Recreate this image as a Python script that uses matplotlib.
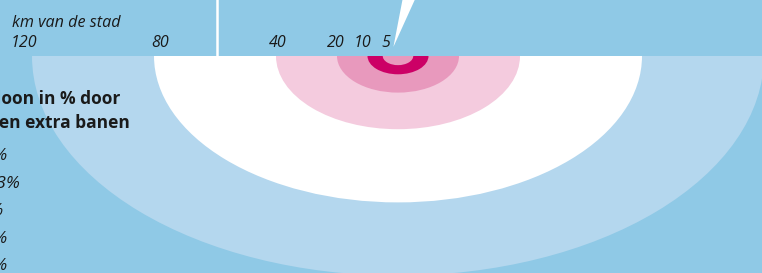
import matplotlib
matplotlib.use("Agg")
import matplotlib.pyplot as plt
from matplotlib.patches import Ellipse, Rectangle, Polygon

plt.rcParams['font.family'] = ['Open Sans', 'DejaVu Sans']

# ringen rond de stad (km) en kleuren, van buiten naar binnen
ring_km = [120, 80, 40, 20, 10, 5]
ring_kleur = ['#b4d7ee', '#ffffff', '#f4cbde', '#e899bd', '#cc0066', '#e899bd']
km_labels = ['120', '80', '40', '20', '10', '5']
km_label_pos = [-122.5, -78, -39.5, -20.5, -11.5, -4]

# legenda (links afgesneden in het origineel)
legenda_titel = ['Stijging loon in % door', 'het scheppen extra banen']
legenda_waarden = ['+0,4%', '+0,13%', '+0,2%', '+0,1%', '+0,1%']

bg = '#8fc9e6'
tekst = '#1a1a1a'
px_km = 3.05      # pixels per km
cx, cy = 398, 56  # middelpunt in pixels
ratio = 0.6       # hoogte/breedte van de ellipsen

W, H = 762, 273
fig = plt.figure(figsize=(W / 100, H / 100), dpi=100)
fig.patch.set_facecolor(bg)
ax = fig.add_axes([0, 0, 1, 1])
ax.set_xlim(-cx / px_km, (W - cx) / px_km)
ax.set_ylim(-(H - cy) / px_km, cy / px_km)
ax.set_facecolor(bg)
ax.axis('off')

for r, c in zip(ring_km, ring_kleur):
    ax.add_patch(Ellipse((0, 0), 2 * r, 2 * r * ratio, facecolor=c,
                         edgecolor='none', zorder=1))

# kopbalk
top = cy / px_km
ax.add_patch(Rectangle((-200, 0), 400, top + 5, facecolor=bg,
                       edgecolor='none', zorder=2))
ax.plot([-59.2, -59.2], [0, top + 1], color='white', lw=1.8, zorder=3,
        solid_capstyle='butt')
ax.add_patch(Polygon([(-1.5, 3.0), (1.55, top + 0.5), (5.7, top + 0.5)],
                     closed=True, facecolor='white', edgecolor='none', zorder=3))

ax.text(-126.5, 9.4, 'km van de stad', style='italic', fontsize=11.6,
        color=tekst, ha='left', va='baseline', zorder=4)
for lab, x in zip(km_labels, km_label_pos):
    ax.text(x, 3.0, lab, style='italic', fontsize=11.5, color=tekst,
            ha='center', va='baseline', zorder=4)

# legenda tekst
fig.text(120 / W, 1 - 104 / H, legenda_titel[0], fontsize=12.5,
         fontweight='bold', color=tekst, ha='right', va='baseline')
fig.text(130 / W, 1 - 128 / H, legenda_titel[1], fontsize=12.5,
         fontweight='bold', color=tekst, ha='right', va='baseline')
eind = [8, 21, 4, 8, 8]
basis = [160, 188, 215, 243, 270]
for lab, xe, yb in zip(legenda_waarden, eind, basis):
    fig.text(xe / W, 1 - yb / H, lab, fontsize=12.5, style='italic',
             color=tekst, ha='right', va='baseline')

fig.savefig('out.png', dpi=100, facecolor=bg)
